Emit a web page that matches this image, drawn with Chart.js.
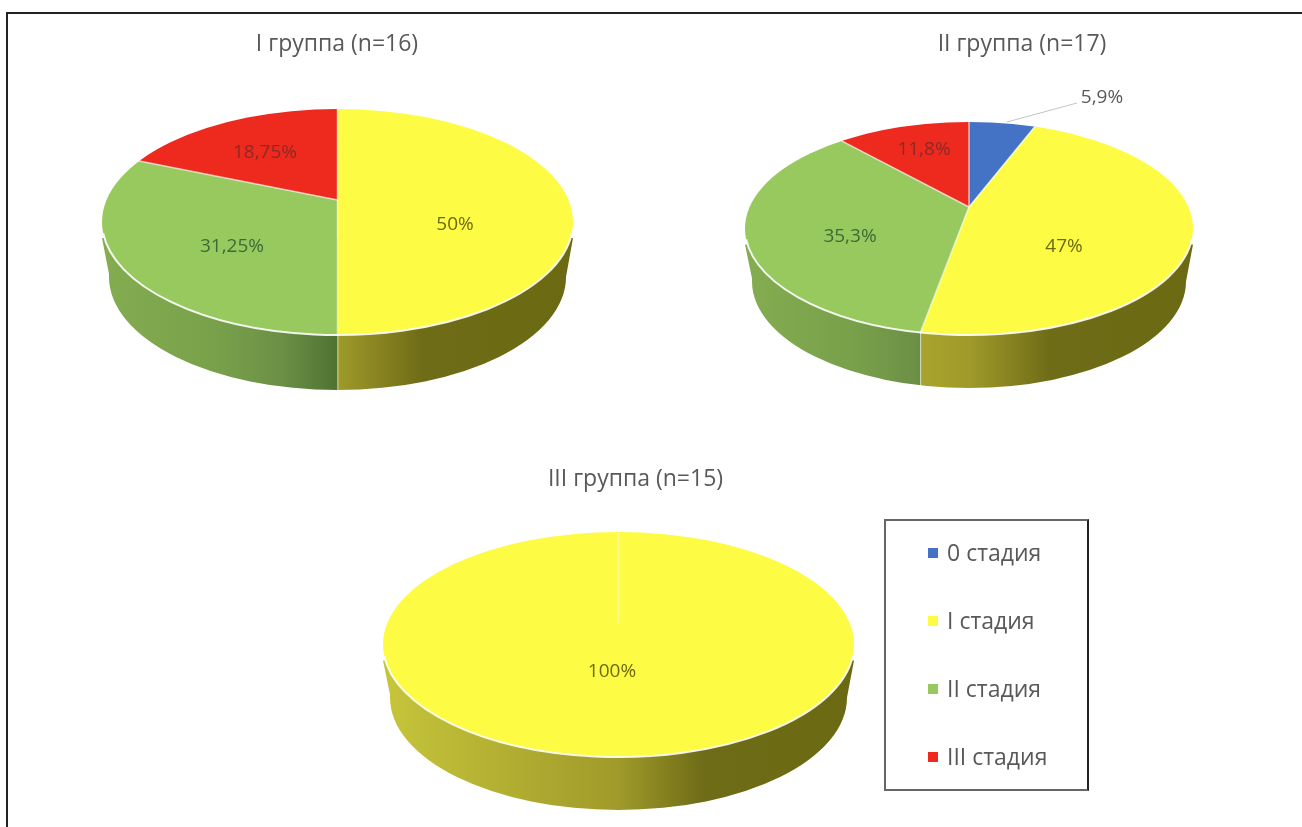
<!DOCTYPE html>
<html lang="ru">
<head>
<meta charset="utf-8">
<title>Стадии по группам</title>
<script src="https://cdn.jsdelivr.net/npm/chart.js@4"></script>
<style>
    html, body { margin: 0; padding: 0; background: #fff; }
    body { position: relative; width: 1302px; height: 827px; overflow: hidden; font-family: "Open Sans", sans-serif; }
    #frame { position: absolute; left: 6px; top: 12px; width: 1320px; height: 840px; border: 2px solid #222; box-sizing: border-box; }
    canvas { position: absolute; }
    #legend { position: absolute; left: 884px; top: 519px; width: 205px; height: 272px; box-sizing: border-box;
              border: 2px solid #666; border-right-color: #222; }
    .legend-item { position: absolute; left: 42px; color: #595959; font-size: 23px; line-height: 26px; white-space: nowrap; }
    .legend-item i { display: inline-block; width: 10px; height: 10px; margin-right: 9px; vertical-align: 3px; }
</style>
</head>
<body>
<div id="frame"></div>
<canvas id="chart-1"></canvas>
<canvas id="chart-2"></canvas>
<canvas id="chart-3"></canvas>
<div id="legend"></div>

<script>
const categories = ["0 стадия", "I стадия", "II стадия", "III стадия"];
const titles = ["I группа (n=16)", "II группа (n=17)", "III группа (n=15)"];
const group1 = [0, 50, 31.25, 18.75];
const group2 = [5.9, 47, 35.3, 11.8];
const group3 = [0, 100, 0, 0];

const sliceColors = ["#4472c4", "#fdfb43", "#98c95f", "#ee2a1e"];
const labelColors = ["#595959", "#6b6b14", "#3d6b35", "#8c2a24"];

// боковая стенка: градиент по всей ширине диска
const wallStops = {
    1: [[0, "#c6c53a"], [0.5, "#a09a2a"], [0.68, "#6e6c17"], [1, "#6b6a12"]],
    2: [[0, "#84ac50"], [0.25, "#78a04a"], [0.38, "#6c9046"], [0.5, "#4f7232"], [1, "#4f7232"]]
};

// Геометрия дисков в координатах страницы
const layouts = [
    {
        id: "chart-1", values: group1, title: titles[0],
        left: 0, top: 0, width: 674, height: 400,
        cx: 337.5, cy: 222, rx: 235.5, ry: 113, apexY: 200, depth: 56,
        labels: [null, [455, 225], [232, 247], [265, 153]]
    },
    {
        id: "chart-2", values: group2, title: titles[1],
        left: 742, top: 0, width: 560, height: 400,
        cx: 969, cy: 228.5, rx: 224, ry: 106.5, apexY: 207, depth: 54,
        labels: [[1102, 98], [1064, 247], [850, 237], [924, 150]],
        leader: [[1007, 122], [1077, 103]]
    },
    {
        id: "chart-3", values: group3, title: titles[2],
        left: 370, top: 450, width: 531, height: 377,
        cx: 618.5, cy: 644.5, rx: 235.5, ry: 112.5, apexY: 623, depth: 54,
        labels: [null, [612, 672], null, null]
    }
];

const VIEW_TILT = 0.475;
const WEDGE_REACH = 320;

function formatValue(v) {
    return String(v).replace(".", ",") + "%";
}

// Точка пересечения луча из вершины с верхним эллипсом
function rimPoint(g, angle) {
    const dx = Math.cos(angle);
    const dy = VIEW_TILT * Math.sin(angle);
    const oy = g.apexY - g.cy;
    const a = (dx * dx) / (g.rx * g.rx) + (dy * dy) / (g.ry * g.ry);
    const b = (2 * oy * dy) / (g.ry * g.ry);
    const c = (oy * oy) / (g.ry * g.ry) - 1;
    const t = (-b + Math.sqrt(b * b - 4 * a * c)) / (2 * a);
    return { x: g.cx + t * dx, y: g.apexY + t * dy };
}

function isWhole(arc) {
    return arc.circumference >= Math.PI * 2 - 1e-6;
}

function frontSpan(g, arc) {
    if (isWhole(arc)) return [g.cx - g.rx, g.cx + g.rx];
    const s = rimPoint(g, arc.startAngle);
    const e = rimPoint(g, arc.endAngle);
    const right = s.y > g.cy ? s.x : (Math.cos(arc.startAngle) > -1e-6 ? g.cx + g.rx : null);
    const left = e.y > g.cy ? e.x : (Math.cos(arc.endAngle) < 0 ? g.cx - g.rx : null);
    if (right === null || left === null) return null;
    return [left, right];
}

function wallPath(ctx, g) {
    const lowRx = g.rx - 7;
    ctx.beginPath();
    ctx.moveTo(g.cx - g.rx, g.cy + 16);
    ctx.lineTo(g.cx - lowRx, g.cy + g.depth - 4);
    ctx.ellipse(g.cx, g.cy + g.depth - 1, lowRx, g.ry, 0, Math.PI, 0, true);
    ctx.lineTo(g.cx + g.rx, g.cy + 16);
    ctx.closePath();
}

const pie3d = {
    id: "pie3d",
    beforeDatasetsDraw(chart, args, opts) {
        const g = opts.geometry;
        const ctx = chart.ctx;
        const arcs = chart.getDatasetMeta(0).data;

        ctx.save();
        ctx.translate(-g.left, -g.top);

        // боковая стенка, кусок на каждый сектор
        arcs.forEach((arc, i) => {
            if (!arc.circumference) return;
            const span = frontSpan(g, arc);
            if (!span) return;
            const grad = ctx.createLinearGradient(g.cx - g.rx, 0, g.cx + g.rx, 0);
            wallStops[i].forEach(([p, c]) => grad.addColorStop(p, c));
            ctx.save();
            ctx.beginPath();
            ctx.rect(span[0], 0, span[1] - span[0], 900);
            ctx.clip();
            wallPath(ctx, g);
            ctx.fillStyle = grad;
            ctx.fill();
            ctx.restore();

            // светлая линия на стыке секторов
            if (span[0] > g.cx - g.rx + 1) {
                const p = rimPoint(g, arc.endAngle);
                ctx.strokeStyle = "rgba(255,255,255,0.9)";
                ctx.lineWidth = 1.5;
                ctx.beginPath();
                ctx.moveTo(p.x, p.y);
                ctx.lineTo(p.x, p.y + g.depth);
                ctx.stroke();
            }
        });

        // верх диска: секторы обрезаются эллипсом
        ctx.beginPath();
        ctx.ellipse(g.cx, g.cy, g.rx, g.ry, 0, 0, Math.PI * 2);
        ctx.clip();
        const first = arcs[0];
        const scale = WEDGE_REACH / first.outerRadius;
        ctx.translate(g.cx, g.apexY);
        ctx.scale(scale, scale * VIEW_TILT);
        ctx.translate(-first.x, -first.y);
    },
    afterDatasetsDraw(chart, args, opts) {
        const g = opts.geometry;
        const ctx = chart.ctx;
        const arcs = chart.getDatasetMeta(0).data;
        ctx.restore();

        ctx.save();
        ctx.translate(-g.left, -g.top);

        // границы секторов
        ctx.lineWidth = 1.5;
        arcs.forEach((arc) => {
            if (!arc.circumference) return;
            const p = rimPoint(g, arc.startAngle);
            ctx.strokeStyle = isWhole(arc) ? "rgba(255,255,255,0.4)" : "rgba(255,255,255,0.65)";
            ctx.beginPath();
            ctx.moveTo(g.cx, g.apexY);
            ctx.lineTo(p.x, p.y);
            ctx.stroke();
        });

        // светлый кант по переднему краю
        ctx.strokeStyle = "rgba(255,255,255,0.9)";
        ctx.lineWidth = 2;
        ctx.beginPath();
        ctx.ellipse(g.cx, g.cy, g.rx, g.ry, 0, 0.1, Math.PI - 0.1);
        ctx.stroke();

        if (g.leader) {
            ctx.strokeStyle = "#bfc4cc";
            ctx.lineWidth = 1;
            ctx.beginPath();
            ctx.moveTo(g.leader[0][0], g.leader[0][1]);
            ctx.lineTo(g.leader[1][0], g.leader[1][1]);
            ctx.stroke();
        }

        ctx.font = '19px "Open Sans", sans-serif';
        ctx.textAlign = "center";
        ctx.textBaseline = "middle";
        g.values.forEach((v, i) => {
            if (!v || !g.labels[i]) return;
            ctx.fillStyle = labelColors[i];
            ctx.fillText(formatValue(v), g.labels[i][0], g.labels[i][1]);
        });
        ctx.restore();
    }
};

function createPie(g) {
    const el = document.getElementById(g.id);
    el.width = g.width;
    el.height = g.height;
    el.style.left = g.left + "px";
    el.style.top = g.top + "px";
    new Chart(el.getContext("2d"), {
        type: "pie",
        data: {
            labels: categories,
            datasets: [{ data: g.values, backgroundColor: sliceColors, borderWidth: 0 }]
        },
        options: {
            responsive: false,
            animation: false,
            rotation: 0,
            plugins: {
                legend: { display: false },
                tooltip: { enabled: false },
                title: {
                    display: true,
                    text: g.title,
                    color: "#595959",
                    font: { family: '"Open Sans", sans-serif', size: 23, weight: "normal" },
                    padding: { top: g.top ? 16 : 31, bottom: 10 }
                },
                pie3d: { geometry: g }
            }
        },
        plugins: [pie3d]
    });
}

function buildLegend() {
    const box = document.getElementById("legend");
    const rows = [18, 86, 154, 222];
    categories.forEach((name, i) => {
        const row = document.createElement("div");
        row.className = "legend-item";
        row.style.top = rows[i] + "px";
        const sw = document.createElement("i");
        sw.style.background = sliceColors[i];
        row.appendChild(sw);
        row.appendChild(document.createTextNode(name));
        box.appendChild(row);
    });
}

layouts.forEach(createPie);
buildLegend();
</script>
</body>
</html>
